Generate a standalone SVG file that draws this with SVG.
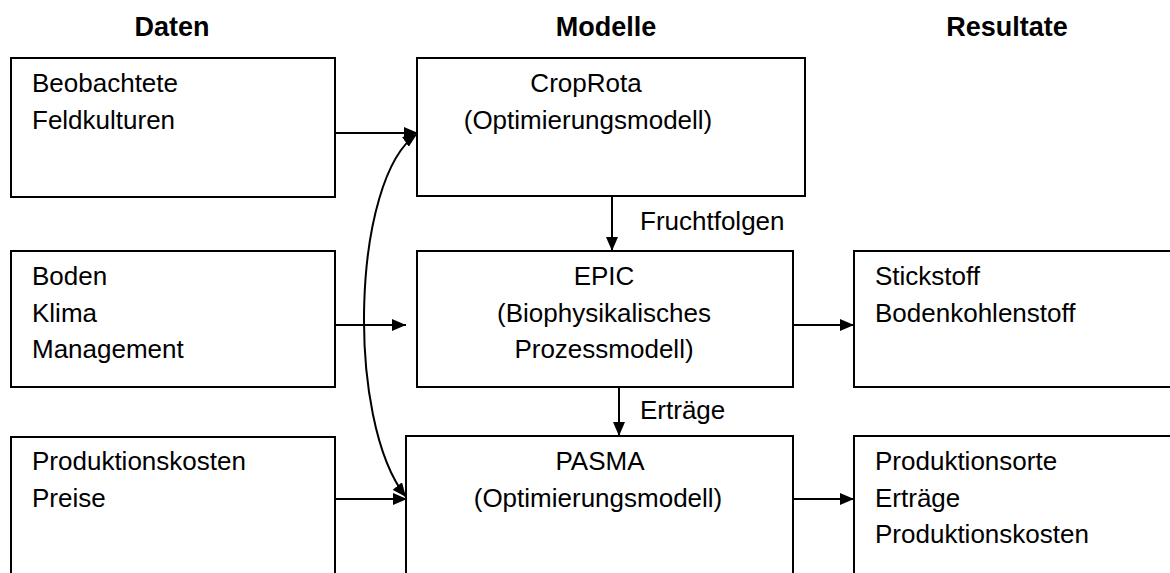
<svg xmlns="http://www.w3.org/2000/svg" width="1170" height="573" viewBox="0 0 1170 573">
<style>
text{font-family:"Liberation Sans",Arial,sans-serif;font-size:26px;fill:#000}
.h{font-weight:bold;font-size:27px}
.c{text-anchor:middle}
rect{fill:#fff;stroke:#000;stroke-width:2}
.ln{fill:none;stroke:#000;stroke-width:2}
</style>
<defs>
<marker id="ah" viewBox="0 0 14 12" refX="14" refY="6" markerWidth="14" markerHeight="12" markerUnits="userSpaceOnUse" orient="auto-start-reverse">
<path d="M0,0 L14,6 L0,12 Z" fill="#000"/>
</marker>
</defs>
<rect width="1170" height="573" style="stroke:none"/>
<g id="headers">
<text class="h c" x="172" y="36">Daten</text>
<text class="h c" x="606" y="36">Modelle</text>
<text class="h c" x="1007" y="36">Resultate</text>
</g>
<g id="beobachtete">
<rect x="11" y="58" width="324" height="139"/>
<text x="32" y="92">Beobachtete</text>
<text x="32" y="129">Feldkulturen</text>
</g>
<g id="boden">
<rect x="11" y="251" width="324" height="136"/>
<text x="32" y="285">Boden</text>
<text x="32" y="322">Klima</text>
<text x="32" y="358">Management</text>
</g>
<g id="kosten">
<rect x="11" y="437" width="324" height="150"/>
<text x="32" y="470">Produktionskosten</text>
<text x="32" y="507">Preise</text>
</g>
<g id="croprota">
<rect x="417" y="58" width="388" height="138"/>
<text class="c" x="586" y="92">CropRota</text>
<text class="c" x="588" y="129">(Optimierungsmodell)</text>
</g>
<g id="epic">
<rect x="417" y="251" width="376" height="136"/>
<text class="c" x="604" y="285">EPIC</text>
<text class="c" x="604" y="322">(Biophysikalisches</text>
<text class="c" x="604" y="358">Prozessmodell)</text>
</g>
<g id="pasma">
<rect x="406" y="436" width="387" height="150"/>
<text class="c" x="600" y="470">PASMA</text>
<text class="c" x="598" y="507">(Optimierungsmodell)</text>
</g>
<g id="stickstoff">
<rect x="854" y="251" width="330" height="136"/>
<text x="875" y="285">Stickstoff</text>
<text x="875" y="322">Bodenkohlenstoff</text>
</g>
<g id="produktionsorte">
<rect x="854" y="436" width="330" height="150"/>
<text x="875" y="470">Produktionsorte</text>
<text x="875" y="507">Erträge</text>
<text x="875" y="543">Produktionskosten</text>
</g>
<g id="connectors">
<line class="ln" x1="335" y1="133" x2="418" y2="133" marker-end="url(#ah)"/>
<line class="ln" x1="335" y1="325" x2="406" y2="325" marker-end="url(#ah)"/>
<line class="ln" x1="335" y1="499" x2="407" y2="499" marker-end="url(#ah)"/>
<line class="ln" x1="612" y1="196" x2="612" y2="251" marker-end="url(#ah)"/>
<line class="ln" x1="619" y1="387" x2="619" y2="436" marker-end="url(#ah)"/>
<line class="ln" x1="793" y1="325" x2="854" y2="325" marker-end="url(#ah)"/>
<line class="ln" x1="793" y1="499" x2="854" y2="499" marker-end="url(#ah)"/>
<path class="ln" d="M406,497 C345,420 352,178 417,134" marker-start="url(#ah)" marker-end="url(#ah)"/>
<text x="640" y="230">Fruchtfolgen</text>
<text x="640" y="419">Erträge</text>
</g>
</svg>
